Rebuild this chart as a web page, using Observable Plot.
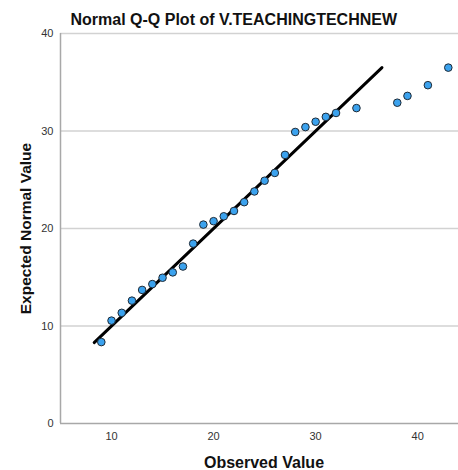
<!DOCTYPE html>
<html>
<head>
<meta charset="utf-8">
<script src="https://cdn.jsdelivr.net/npm/d3@7"></script>
<script src="https://cdn.jsdelivr.net/npm/@observablehq/plot@0.6"></script>
<style>
  html, body { margin: 0; padding: 0; background: #fff; }
  #chart svg { display: block; font-family: "Liberation Sans", Arial, sans-serif; }
</style>
</head>
<body>
<div id="chart"></div>
<script>
const title = "Normal Q-Q Plot of V.TEACHINGTECHNEW";
const xTitle = "Observed Value";
const yTitle = "Expected Normal Value";

// Observed values and their expected normal values
const observed = [9, 10, 11, 12, 13, 14, 15, 16, 17, 18, 19, 20, 21, 22, 23, 24, 25, 26, 27, 28, 29, 30, 31, 32, 34, 38, 39, 41, 43];
const expected = [8.35, 10.55, 11.35, 12.6, 13.7, 14.3, 14.95, 15.5, 16.1, 18.45, 20.4, 20.75, 21.25, 21.8, 22.7, 23.8, 24.9, 25.7, 27.55, 29.9, 30.4, 30.95, 31.45, 31.85, 32.35, 32.9, 33.6, 34.7, 36.5];

// Reference line (expected = observed)
const lineX = [8.3, 36.5];
const lineY = [8.3, 36.5];

const xTicks = [10, 20, 30, 40];
const yTicks = [0, 10, 20, 30, 40];
const gridTicks = [10, 20, 30, 40];

const points = observed.map((o, i) => ({o, e: expected[i]}));
const refLine = lineX.map((x, i) => ({x, y: lineY[i]}));

const chart = Plot.plot({
  width: 458,
  height: 470,
  marginLeft: 60,
  marginRight: 0,
  marginTop: 33,
  marginBottom: 47,
  style: {fontSize: "11px", color: "#333", background: "#fff"},
  x: {domain: [5, 44], label: null},
  y: {domain: [0, 40], label: null},
  marks: [
    Plot.gridY(gridTicks, {stroke: "#d2d2d2", strokeOpacity: 1, strokeWidth: 1.5}),
    Plot.ruleX([5], {stroke: "#a8a8a8", strokeWidth: 1.5}),
    Plot.ruleY([0], {stroke: "#a8a8a8", strokeWidth: 1.5}),
    Plot.axisX(xTicks, {tickSize: 0, tickPadding: 9, fill: "#333", fontSize: 11, label: null}),
    Plot.axisY(yTicks, {tickSize: 0, tickPadding: 7, fill: "#333", fontSize: 11, label: null}),
    Plot.line(refLine, {x: "x", y: "y", stroke: "#000", strokeWidth: 3}),
    Plot.dot(points, {x: "o", y: "e", r: 3.8, fill: "#3ba2ee", stroke: "#1e2a36", strokeWidth: 1, fillOpacity: 1}),
    Plot.text([title], {frameAnchor: "top-left", textAnchor: "start", lineAnchor: "bottom", dx: 10, dy: -8.5, fontSize: 16, fontWeight: "bold", fill: "#111"}),
    Plot.text([xTitle], {frameAnchor: "bottom", lineAnchor: "bottom", dx: 4.5, dy: 44, fontSize: 16, fontWeight: "bold", fill: "#111"}),
    Plot.text([yTitle], {frameAnchor: "left", textAnchor: "middle", rotate: -90, lineAnchor: "middle", dx: -34, fontSize: 15.5, fontWeight: "bold", fill: "#111"})
  ]
});
document.getElementById("chart").append(chart);
</script>
</body>
</html>
